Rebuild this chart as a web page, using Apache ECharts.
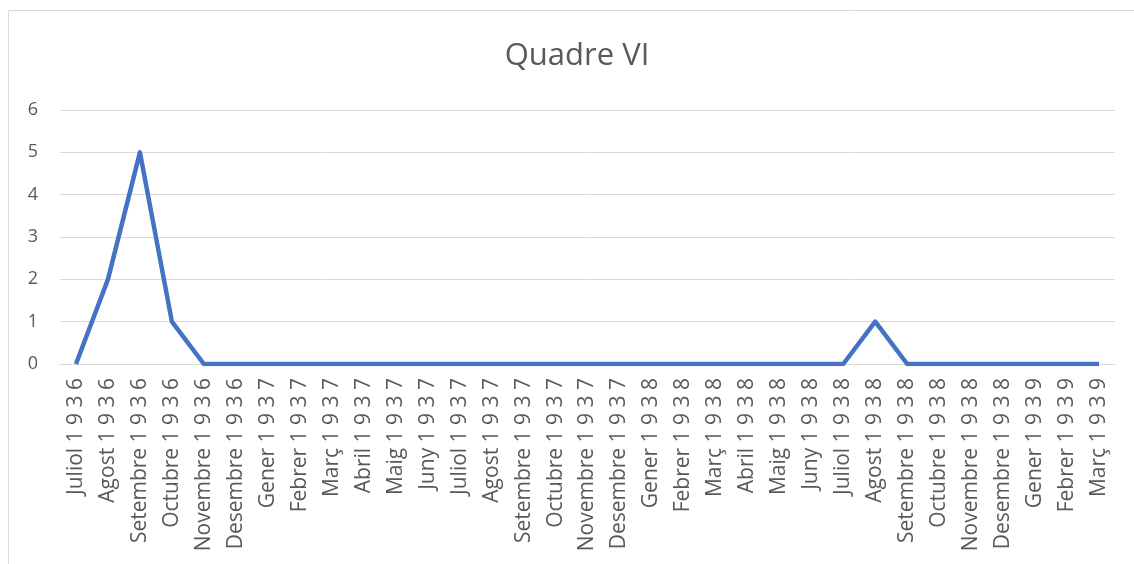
<!DOCTYPE html>
<html><head><meta charset="utf-8">
<script src="https://cdn.jsdelivr.net/npm/echarts@6/dist/echarts.min.js"></script>
<style>html,body{margin:0;padding:0;background:#fff}#c{width:1134px;height:564px}</style>
</head><body><div id="c"></div>
<script>
const months = ["Juliol","Agost","Setembre","Octubre","Novembre","Desembre","Gener","Febrer","Març","Abril","Maig","Juny","Juliol","Agost","Setembre","Octubre","Novembre","Desembre","Gener","Febrer","Març","Abril","Maig","Juny","Juliol","Agost","Setembre","Octubre","Novembre","Desembre","Gener","Febrer","Març"];
const years = ["1 9 3 6","1 9 3 6","1 9 3 6","1 9 3 6","1 9 3 6","1 9 3 6","1 9 3 7","1 9 3 7","1 9 3 7","1 9 3 7","1 9 3 7","1 9 3 7","1 9 3 7","1 9 3 7","1 9 3 7","1 9 3 7","1 9 3 7","1 9 3 7","1 9 3 8","1 9 3 8","1 9 3 8","1 9 3 8","1 9 3 8","1 9 3 8","1 9 3 8","1 9 3 8","1 9 3 8","1 9 3 8","1 9 3 8","1 9 3 8","1 9 3 9","1 9 3 9","1 9 3 9"];
const values = [0,2,5,1,0,0,0,0,0,0,0,0,0,0,0,0,0,0,0,0,0,0,0,0,0,1,0,0,0,0,0,0,0];
const categories = months.map((m,i)=>m+" "+years[i]);
const chart = echarts.init(document.getElementById('c'));
chart.setOption({
  animation:false,
  backgroundColor:'#fff',
  title:{text:'Quadre VI',left:572,top:36,textAlign:'center',textStyle:{fontFamily:'Open Sans',fontSize:31,fontWeight:'normal',color:'#595959'}},
  graphic:[{type:'rect',shape:{x:8.5,y:10.5,width:1200,height:700},style:{fill:'none',stroke:'#d9d9d9',lineWidth:1},silent:true}],
  grid:{left:60,right:19,top:110,bottom:200},
  xAxis:{type:'category',data:categories,boundaryGap:true,
    axisLine:{lineStyle:{color:'#d9d9d9',width:1}},axisTick:{show:false},
    axisLabel:{rotate:90,interval:0,color:'#595959',fontFamily:'Open Sans',fontSize:21,margin:14}},
  yAxis:{type:'value',min:0,max:6,interval:1,
    axisLine:{show:false},axisTick:{show:false},
    splitLine:{lineStyle:{color:'#d9d9d9',width:1}},
    axisLabel:{color:'#595959',fontFamily:'Open Sans',fontSize:18,margin:22}},
  series:[{type:'line',data:values,showSymbol:false,symbol:'none',lineStyle:{color:'#4472C4',width:4.5,join:'round'},itemStyle:{color:'#4472C4'}}]
});
</script></body></html>
